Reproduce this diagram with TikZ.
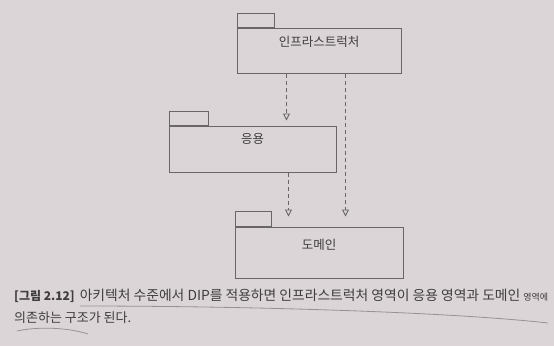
\documentclass[tikz,border=0pt]{standalone}
\usepackage{fontspec}
\setmainfont{Noto Sans CJK KR}
\usetikzlibrary{arrows.meta,positioning}

\definecolor{paper}{RGB}{219,213,215}
\definecolor{linegray}{RGB}{105,102,104}
\definecolor{textgray}{RGB}{62,60,62}
\definecolor{pencilgray}{RGB}{150,145,148}

\tikzset{
  pkg/.style={draw=linegray, line width=1pt, inner sep=0pt},
  pkgtab/.style={draw=linegray, line width=1pt, inner sep=0pt,
    minimum width=37pt, minimum height=14pt, anchor=south west},
  pkgname/.style={font=\fontsize{12.5}{14}\selectfont, text=textgray},
  dep/.style={draw=linegray, line width=0.9pt, dash pattern=on 4pt off 3pt,
    -{Triangle[open,width=7pt,length=7pt]}},
  caption/.style={font=\fontsize{13.8}{16}\selectfont, text=textgray, anchor=west, inner sep=0pt},
  pencil/.style={draw=pencilgray, line width=0.8pt}
}

\begin{document}
\begin{tikzpicture}[x=1pt,y=-1pt]

% Page
\fill[paper] (0,0) rectangle (554,346);
\useasboundingbox (0,0) rectangle (554,346);

% Infrastructure package
\node[pkg, minimum width=164pt, minimum height=45pt] (infra) at (319,50.5) {};
\node[pkgtab] (infratab) at (infra.north west) {};
\node[pkgname] (infraname) at ([yshift=-14pt]infra.north) {인프라스트럭처};

% Application package
\node[pkg, minimum width=167pt, minimum height=46pt] (app) at (252.5,149) {};
\node[pkgtab, minimum width=39pt] (apptab) at (app.north west) {};
\node[pkgname] (appname) at ([yshift=-13pt]app.north) {응용};

% Domain package
\node[pkg, minimum width=168pt, minimum height=51pt] (domain) at (319,252.5) {};
\node[pkgtab, minimum width=36pt, minimum height=15pt] (domaintab) at (domain.north west) {};
\node[pkgname] (domainname) at ([yshift=-18pt]domain.north) {도메인};

% Dependencies (dashed, open triangle)
\draw[dep, shorten >=5pt] ([xshift=50pt]infra.south west) -- ([xshift=118pt]app.north west);
\draw[dep, shorten >=10pt] ([xshift=120pt]app.south west) -- ([xshift=54pt]domain.north west);
\draw[dep, shorten >=10pt] ([xshift=109pt]infra.south west) -- ([xshift=111pt]domain.north west);

% Caption
\node[caption] (cap1) at (14,296) {{\fontsize{12}{14}\selectfont\bfseries [그림 2.12]}\hspace{5pt}아키텍처 수준에서 DIP를 적용하면 인프라스트럭처 영역이 응용 영역과 도메인 {\fontsize{9}{10}\selectfont 영역에}};
\node[caption, font=\fontsize{13}{15}\selectfont] (cap2) at (14,318) {의존하는 구조가 된다.};

% Pencil marks
\draw[pencil] (80,306) .. controls (250,306) and (450,312) .. (548,323);
\draw[pencil] (17,331) .. controls (40,326) and (70,328) .. (88,334);

\end{tikzpicture}
\end{document}
